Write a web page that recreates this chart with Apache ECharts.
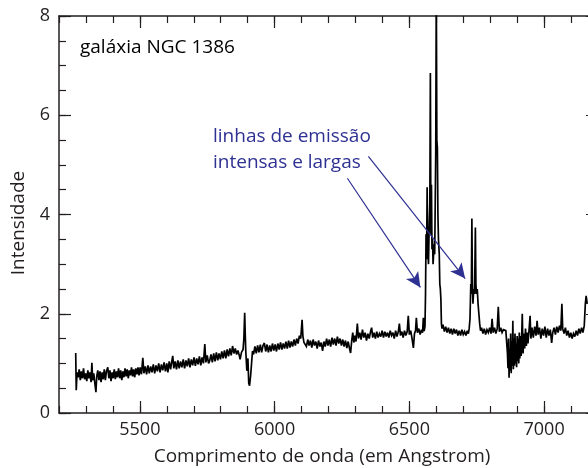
<!DOCTYPE html>
<html>
<head>
<meta charset="utf-8">
<script src="https://cdn.jsdelivr.net/npm/echarts@6/dist/echarts.min.js"></script>
<style>
html,body{margin:0;padding:0;background:#fff;}
#chart{width:588px;height:468px;}
</style>
</head>
<body>
<div id="chart"></div>
<script>
// ---- data (wavelength in Angstrom, intensity) ----
const contBlue = [[5262,1.21],[5264,0.46],[5267,0.82],[5271,0.72],[5275,0.88],[5279,0.66],[5283,0.84],[5287,0.7],[5291,0.9],[5295,0.68],[5299,0.8],[5303,0.64],[5307,0.86],[5311,0.7],[5315,0.82],[5319,0.62],[5322,1.01],[5325,0.66],[5329,0.8],[5333,0.6],[5337,0.42],[5340,0.74],[5344,0.86],[5348,0.66],[5352,0.84],[5356,0.62],[5360,0.82],[5364,0.68],[5368,0.88],[5372,0.66],[5376,0.84],[5381,0.92],[5385,0.7],[5389,0.86],[5393,0.64],[5397,0.82],[5401,0.7],[5405,0.88],[5409,0.68],[5413,0.84],[5417,0.72],[5421,0.9],[5425,0.7],[5429,0.86],[5433,0.66],[5437,0.84],[5441,0.72],[5445,0.9],[5449,0.74],[5453,0.88],[5457,0.7],[5461,0.86],[5465,0.76],[5469,0.92],[5473,0.74],[5477,0.88],[5481,0.72],[5485,0.9],[5489,0.78],[5493,0.92],[5497,0.76],
[5501,0.92],[5506,0.78],[5511,1.11],[5515,0.8],[5520,0.94],[5525,0.78],[5530,0.96],[5535,0.8],[5540,0.94],[5545,0.82],[5550,0.98],[5555,0.8],[5560,0.96],[5565,0.84],[5570,1.0],[5575,0.82],[5580,0.98],[5585,0.86],[5590,1.02],[5595,0.84],[5600,1.0],[5604,0.82],[5609,1.04],[5614,0.88],[5618,1.02],[5622,1.15],[5626,0.9],[5631,1.04],[5636,0.88],[5641,1.06],[5646,0.9],[5651,1.04],[5656,0.92],[5661,1.08],[5666,0.9],[5671,1.06],[5676,0.94],[5681,1.1],[5686,0.92],[5691,1.08],[5696,0.96],
[5701,1.12],[5706,0.95],[5711,1.1],[5716,0.98],[5721,1.14],[5726,0.96],[5731,1.12],[5736,1.0],[5741,1.39],[5745,1.02],[5750,1.16],[5755,1.0],[5759,1.05],[5764,1.18],[5769,1.02],[5774,1.2],[5779,1.04],[5784,1.22],[5789,1.06],[5794,1.2],[5799,1.08],[5804,1.24],[5809,1.1],[5814,1.26],[5819,1.1],[5824,1.28],[5829,1.14],[5834,1.3],[5839,1.16],[5844,1.35],[5849,1.2],[5854,1.3],[5859,1.18],[5864,1.26],[5869,1.16],[5872,1.08],[5877,1.22],[5880,1.2]];
const naD = [[5883,1.28],[5886,1.5],[5889,2.02],[5891,1.6],[5893,1.25],[5897,0.85],[5901,1.1],[5904,0.6],[5907,0.55],[5911,0.75],[5915,0.71],[5918,1.25]];
const contMid = [[5922,1.18],[5927,1.34],[5932,1.2],[5937,1.36],[5942,1.22],[5947,1.38],[5952,1.22],[5957,1.36],[5962,1.41],[5967,1.24],[5972,1.38],[5977,1.22],[5982,1.36],[5987,1.24],[5992,1.4],[5997,1.26],[6002,1.38],[6007,1.24],[6012,1.4],[6017,1.28],[6022,1.42],[6027,1.28],[6032,1.4],[6037,1.3],[6042,1.44],[6047,1.3],[6052,1.46],[6057,1.32],[6062,1.44],[6067,1.34],[6072,1.48],[6077,1.36],[6082,1.5],[6087,1.4],[6092,1.56],[6097,1.5],[6102,1.88],[6105,1.55],[6109,1.42],[6113,1.46],
[6118,1.34],[6123,1.48],[6128,1.36],[6133,1.46],[6138,1.32],[6143,1.48],[6148,1.36],[6153,1.44],[6158,1.3],[6163,1.46],[6168,1.34],[6173,1.42],[6178,1.25],[6183,1.44],[6188,1.34],[6193,1.5],[6198,1.36],[6203,1.48],[6208,1.34],[6213,1.52],[6218,1.38],[6223,1.5],[6228,1.36],[6233,1.54],[6238,1.4],[6243,1.5],[6248,1.36],[6253,1.48],[6258,1.34],[6263,1.46],[6268,1.31],[6273,1.44],[6278,1.3],[6282,1.21],[6286,1.45],[6290,1.62],[6294,1.42],[6298,1.56],[6302,1.44],[6307,1.8],[6311,1.5],
[6316,1.62],[6321,1.48],[6326,1.68],[6331,1.52],[6336,1.62],[6341,1.46],[6346,1.6],[6351,1.5],[6356,1.64],[6360,1.72],[6364,1.52],[6369,1.62],[6374,1.5],[6379,1.64],[6384,1.52],[6389,1.6],[6394,1.54],[6399,1.66],[6404,1.52],[6409,1.64],[6414,1.54],[6419,1.62],[6424,1.52],[6429,1.66],[6434,1.56],[6439,1.62],[6444,1.5],[6449,1.66],[6454,1.54],[6459,1.64],[6463,1.8],[6467,1.56],[6472,1.64],[6477,1.52],[6482,1.66],[6487,1.56],[6492,1.64],[6496,1.96],[6500,1.58],[6505,1.66],[6510,1.5],[6515,1.31],[6519,1.6],[6523,1.66],[6526,1.92],[6530,1.62],[6535,1.7],[6540,1.58],[6545,1.68],[6549,1.62],[6552,1.92],[6555,1.65]];
const halphaComplex = [[6558,1.75],[6560,2.4],[6562,3.6],[6564,3.1],[6566,4.55],[6568,3.4],[6571,3.0],[6573,3.6],[6576,4.2],[6578,6.85],[6580,3.6],[6582,4.6],[6584,3.3],[6586,3.5],[6588,3.0],[6590,3.2],[6592,3.4],[6594,3.2],[6596,4.2],[6598,5.3],[6600,8.6],[6602,5.5],[6604,5.35],[6606,4.0],[6608,3.5],[6611,3.2],[6613,2.6],[6615,2.5],[6617,2.3],[6619,1.8],[6621,1.7]];
const contRed1 = [[6625,1.78],[6630,1.64],[6635,1.74],[6640,1.62],[6645,1.72],[6650,1.6],[6655,1.7],[6660,1.58],[6665,1.7],[6670,1.6],[6675,1.68],[6680,1.56],[6685,1.66],[6690,1.56],[6695,1.68],[6700,1.58],[6705,1.64],[6710,1.56],[6715,1.66],[6719,1.6],[6722,1.7]];
const siiLines = [[6725,1.9],[6728,2.6],[6730,2.4],[6732,3.92],[6734,2.6],[6736,2.2],[6739,2.5],[6742,2.4],[6745,3.74],[6747,2.6],[6749,2.4],[6752,2.5],[6755,2.2],[6758,2.0],[6761,1.8],[6764,1.66]];
const contRed2 = [[6768,1.72],[6773,1.6],[6778,1.7],[6783,1.58],[6788,1.68],[6793,1.62],[6798,1.72],[6803,1.6],[6807,1.9],[6811,1.62],[6816,1.72],[6821,1.6],[6826,1.7],[6830,2.14],[6834,1.64],[6839,1.72],[6844,1.62],[6849,1.68],[6853,1.66],[6858,1.66],[6862,1.66]];
const telluric = [[6864,1.2],[6866,0.9],[6868,1.5],[6870,0.71],[6872,1.3],[6874,0.85],[6876,1.6],[6878,0.8],[6880,1.45],[6882,0.95],[6884,1.86],[6886,0.88],[6888,1.5],[6890,0.95],[6892,1.6],[6894,1.0],[6896,1.4],[6898,0.92],[6900,1.55],[6902,1.05],[6904,1.5],[6906,1.0],[6908,1.62],[6910,1.1],[6912,1.55],[6915,1.15],[6919,2.0],[6922,1.2],[6925,1.6],[6928,1.3],[6931,1.7],[6934,1.35],[6937,1.62],[6940,1.4],[6944,1.66],[6948,1.96],[6951,1.5]];
const contRed3 = [[6955,1.72],[6960,1.52],[6965,1.74],[6970,1.56],[6974,1.86],[6978,1.58],[6983,1.72],[6988,1.5],[6993,1.7],[6998,1.56],[7003,1.74],[7008,1.52],[7013,1.7],[7018,1.56],[7023,1.68],[7028,1.41],[7032,1.62],[7037,1.72],[7042,1.58],[7047,1.74],[7052,1.62],[7057,1.76],[7062,1.66],[7066,2.2],[7069,1.7],[7074,1.6],[7079,1.72],[7084,1.56],[7089,1.66],[7094,1.52],[7099,1.62],[7104,1.5],[7109,1.6],[7114,1.54],[7119,1.66],[7124,1.56],[7129,1.7],[7134,1.6],[7139,1.72],[7144,1.62],[7149,1.76],[7153,2.2],[7156,2.36],[7160,2.2]];

const xTickLabels = [5500, 6000, 6500, 7000];
const yTickLabels = [0, 2, 4, 6, 8];
// arrow annotations: [start, end] in data coords
const arrows = [
  [[6270, 4.73], [6541, 2.53]],
  [[6348, 5.17], [6707, 2.71]]
];
const galaxyLabel = 'galáxia NGC 1386';
const noteLines = ['linhas de emissão', 'intensas e largas'];
const xName = 'Comprimento de onda (em Angstrom)';
const yName = 'Intensidade';

const spectrum = [].concat(contBlue, naD, contMid, halphaComplex, contRed1, siiLines, contRed2, telluric, contRed3);

const FONT = 'Open Sans';
const AX = '#231f20';
const BLUE = '#2e3192';
const gridBox = {left: 59, top: 16, width: 539, height: 397, outerBoundsMode: 'none', containLabel: false};

function xAx(grid, pos, major) {
  const o = {
    type: 'value', gridIndex: grid, position: pos, min: 5200, max: 7200,
    axisLine: {show: !major, onZero: false, lineStyle: {color: AX, width: 1.5}},
    splitLine: {show: false},
    axisTick: {show: true, inside: true, length: major ? 12 : 7, lineStyle: {color: AX, width: 1.2}},
    axisLabel: {show: false}
  };
  if (major) {
    o.axisTick.customValues = xTickLabels;
    if (pos === 'bottom') {
      o.axisLabel = {show: true, customValues: xTickLabels, fontFamily: FONT, fontSize: 18, color: AX, margin: 8,
        formatter: v => String(v)};
    }
  } else {
    o.interval = 100;
  }
  return o;
}
function yAx(grid, pos, major) {
  const o = {
    type: 'value', gridIndex: grid, position: pos, min: 0, max: 8, interval: major ? 2 : 0.5,
    axisLine: {show: !major, onZero: false, lineStyle: {color: AX, width: 1.5}},
    splitLine: {show: false},
    axisTick: {show: true, inside: true, length: major ? 12 : 7, lineStyle: {color: AX, width: 1.2}},
    axisLabel: {show: false}
  };
  if (major && pos === 'left') {
    o.axisLabel = {show: true, fontFamily: FONT, fontSize: 18, color: AX, margin: 9,
      formatter: v => (yTickLabels.indexOf(v) >= 0 ? String(v) : '')};
  }
  return o;
}

const chart = echarts.init(document.getElementById('chart'), null, {renderer: 'canvas'});
chart.setOption({
  animation: false,
  backgroundColor: '#fff',
  grid: [Object.assign({}, gridBox), Object.assign({}, gridBox)],
  xAxis: [xAx(0, 'bottom', false), xAx(0, 'top', false), xAx(1, 'bottom', true), xAx(1, 'top', true)],
  yAxis: [yAx(0, 'left', false), yAx(0, 'right', false), yAx(1, 'left', true), yAx(1, 'right', true)],
  series: [{
    type: 'line', xAxisIndex: 0, yAxisIndex: 0,
    data: spectrum, showSymbol: false, symbol: 'none', clip: true,
    lineStyle: {color: '#000', width: 1.7, join: 'miter', miterLimit: 3},
    z: 3,
    markLine: {
      silent: true, animation: false,
      symbol: ['none', 'arrow'], symbolSize: [11, 15],
      label: {show: false},
      lineStyle: {color: BLUE, width: 1.2, type: 'solid'},
      data: arrows.map(a => [{coord: a[0]}, {coord: a[1]}])
    }
  }],
  graphic: [
    {type: 'text', left: 80, top: 38, style: {text: galaxyLabel, fontFamily: FONT, fontSize: 19, fill: '#000'}},
    {type: 'text', left: 213, top: 127, style: {text: noteLines[0], fontFamily: FONT, fontSize: 19, fill: BLUE}},
    {type: 'text', left: 213, top: 153, style: {text: noteLines[1], fontFamily: FONT, fontSize: 19, fill: BLUE}},
    {type: 'text', x: 322, y: 457, style: {text: xName, fontFamily: FONT, fontSize: 19, fill: AX, align: 'center', verticalAlign: 'middle'}},
    {type: 'text', x: 19, y: 223, rotation: Math.PI / 2, style: {text: yName, fontFamily: FONT, fontSize: 19, fill: AX, align: 'center', verticalAlign: 'middle'}}
  ]
});
</script>
</body>
</html>
